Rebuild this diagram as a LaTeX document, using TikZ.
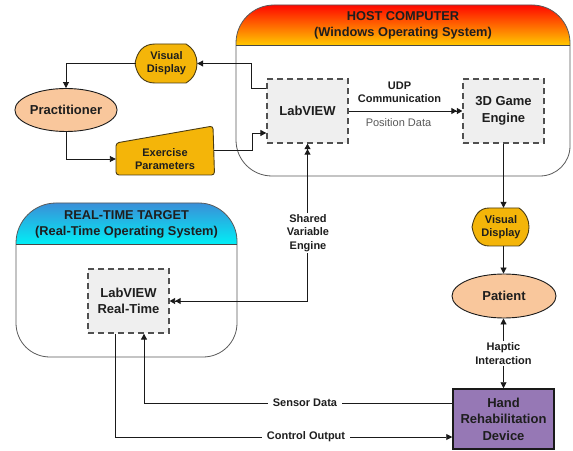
\documentclass[tikz,border=0pt]{standalone}
\usepackage{fontspec}
\setmainfont{Liberation Sans}
\usetikzlibrary{arrows.meta,calc,shapes.geometric}
\definecolor{gold}{HTML}{F4B509}
\definecolor{goldline}{HTML}{4A3C14}
\definecolor{peach}{HTML}{F9C79C}
\definecolor{violet}{HTML}{9678B5}
\definecolor{boxfill}{HTML}{EFEFEF}
\definecolor{dashc}{HTML}{505050}
\definecolor{txt}{HTML}{1E1E1E}
\definecolor{linec}{HTML}{1A1A1A}
\definecolor{outl}{HTML}{5A5A5A}
\definecolor{hostA}{HTML}{FF0800}
\definecolor{hostB}{HTML}{FF6A00}
\definecolor{hostC}{HTML}{FFCC00}
\definecolor{rtA}{HTML}{3A8FD8}
\definecolor{rtB}{HTML}{1DC4EC}
\definecolor{rtC}{HTML}{00F0F6}
\begin{document}
\begin{tikzpicture}[x=1bp,y=-1bp,
  big/.style={font=\fontsize{13bp}{16.5bp}\selectfont\bfseries, text=txt, align=center},
  small/.style={font=\fontsize{11bp}{13.3bp}\selectfont\bfseries, text=txt, align=center},
  dbox/.style={big, draw=dashc, fill=boxfill, dash pattern=on 6bp off 4bp, line width=1.3bp,
    minimum width=81bp, minimum height=64bp, inner sep=0},
  oval/.style={big, ellipse, draw=linec, fill=peach, line width=0.9bp, inner sep=0},
  shp/.style={fill=gold, draw=goldline, line width=0.9bp},
  conn/.style={draw=linec, line width=0.9bp},
  arr/.style={conn, -{Triangle[length=6bp,width=6bp]}},
  darr/.style={conn, -{Triangle[length=5.5bp,width=6bp]Triangle[length=5.5bp,width=6bp]}},
  barr/.style={conn, {Triangle[length=6bp,width=6bp]}-{Triangle[length=6bp,width=6bp]}},
  lbl/.style={small, fill=white, inner sep=2bp},
  hdr/.style={font=\fontsize{12.8bp}{16.5bp}\selectfont\bfseries, text=txt, align=center},
  frame/.style={draw=outl, line width=0.8bp}
]
\useasboundingbox (0,0) rectangle (573,451);
\fill[white] (0,0) rectangle (573,451);

% ---------- Host computer frame ----------
\fill[white] (236,46) -- (236,140) .. controls (236,160) and (252,176) .. (272,176)
  -- (540,176) .. controls (556.6,176) and (570,162.6) .. (570,146) -- (570,46) -- cycle;
\shade[top color=hostA, middle color=hostB, bottom color=hostC]
  (236,46) -- (236,43) .. controls (236,22) and (253,5) .. (274,5)
  -- (532,5) .. controls (553,5) and (570,22) .. (570,43) -- (570,46) -- cycle;
\draw[frame] (236,46) -- (236,43) .. controls (236,22) and (253,5) .. (274,5)
  -- (532,5) .. controls (553,5) and (570,22) .. (570,43) -- (570,46)
  -- (570,146) .. controls (570,162.6) and (556.6,176) .. (540,176)
  -- (272,176) .. controls (252,176) and (236,160) .. (236,140) -- cycle;
\draw[draw=outl!80!black, line width=1bp] (236,46) -- (570,46);
\node[hdr] (hosthdr) at (403,25.5) {HOST COMPUTER\\(Windows Operating System)};

% ---------- Real-time target frame ----------
\shade[top color=rtA, middle color=rtB, bottom color=rtC]
  (16,245) -- (16,243) .. controls (16,221) and (34,203) .. (56,203)
  -- (199,203) .. controls (220,203) and (237,221) .. (237,241) -- (237,245) -- cycle;
\draw[frame] (16,245) -- (16,243) .. controls (16,221) and (34,203) .. (56,203)
  -- (199,203) .. controls (220,203) and (237,221) .. (237,241) -- (237,245)
  -- (237,323) .. controls (237,342) and (222,357) .. (203,357)
  -- (50,357) .. controls (31,357) and (16,342) .. (16,323) -- cycle;
\draw[draw=outl!80!black, line width=1bp] (16,245) -- (237,245);
\node[hdr] (rthdr) at (126.5,224.5) {REAL-TIME TARGET\\(Real-Time Operating System)};

% ---------- custom shapes ----------
% top visual display
\path[shp] (135,63.5) .. controls (137,52) and (143,44) .. (155,44) -- (186,44)
  .. controls (194,49) and (197,56) .. (197,63.5) .. controls (197,71) and (194,78) .. (186,83)
  -- (155,83) .. controls (143,83) and (137,75) .. (135,63.5) -- cycle;
% bottom visual display
\path[shp] (472,227) .. controls (474,216) and (479,208) .. (489,208) -- (519,208)
  .. controls (526,213) and (529,220) .. (529,227) .. controls (529,234) and (526,241) .. (519,246)
  -- (489,246) .. controls (479,246) and (474,238) .. (472,227) -- cycle;
% exercise parameters (manual input)
\path[shp, rounded corners=3bp] (116,143) -- (213,126) -- (214.5,175) -- (116,175) -- cycle;

% ---------- nodes ----------
\node[dbox] (lv) at (307.5,111) {LabVIEW};
\node[dbox] (game) at (503.5,111) {3D Game\\Engine};
\node[dbox] (lvrt) at (128.5,301) {LabVIEW\\Real-Time};
\node[oval, minimum width=101bp, minimum height=43bp] (prac) at (66,110) {Practitioner};
\node[oval, minimum width=104bp, minimum height=44bp] (pat) at (504,296) {Patient};
\node[big, draw=linec, fill=violet, line width=1.5bp, minimum width=101bp, minimum height=60bp, inner sep=0]
  (dev) at (503.5,419) {Hand\\Rehabilitation\\Device};
\node[small, minimum width=61bp, minimum height=39bp, inner sep=0] (vd1) at (166.5,63.5) {Visual\\Display};
\node[small, minimum width=57bp, minimum height=38bp, inner sep=0] (vd2) at (501,227) {Visual\\Display};
\node[small, minimum width=98bp, minimum height=32bp, inner sep=0] (ex) at (165,159) {Exercise\\Parameters};

% ---------- connectors ----------
\draw[arr] ([yshift=23bp]lv.west) -- ++(-15,0) |- (vd1.east);
\draw[arr] (vd1.west) -| (prac.north);
\draw[arr] (prac.south) |- (ex.west);
\draw[arr] ([yshift=9bp]ex.east) -- ++(38,0) |- ([yshift=-22bp]lv.west);
\draw[darr] (lv.east) -- (game.west);
\node[small] (udp) at (399.5,92.5) {UDP\\Communication};
\node[font=\fontsize{11bp}{13bp}\selectfont, text=black!65] (pos) at (398.5,123) {Position Data};

\coordinate (svc) at (lv.south |- lvrt.east);
\draw[darr] (svc) -- (lvrt.east);
\draw[darr] (svc) -- (lv.south);
\node[lbl] (sve) at (308,233) {Shared\\Variable\\Engine};

\draw[arr] (game.south) -- (game.south |- vd2.north);
\draw[arr] (vd2.south -| game.south) -- (pat.north -| game.south);
\draw[barr] (pat.south -| game.south) -- (dev.north -| game.south);
\node[lbl] (hap) at (503.5,353.5) {Haptic\\Interaction};

\draw[arr] ([yshift=16bp]dev.west) -| ([xshift=15.5bp]lvrt.south);
\node[lbl, inner xsep=5bp] (sens) at (305,403) {Sensor Data};
\draw[arr] ([xshift=-13.5bp]lvrt.south) |- ([yshift=-18bp]dev.west);
\node[lbl, inner xsep=5bp] (ctrl) at (306,437) {Control Output};
\end{tikzpicture}
\end{document}
